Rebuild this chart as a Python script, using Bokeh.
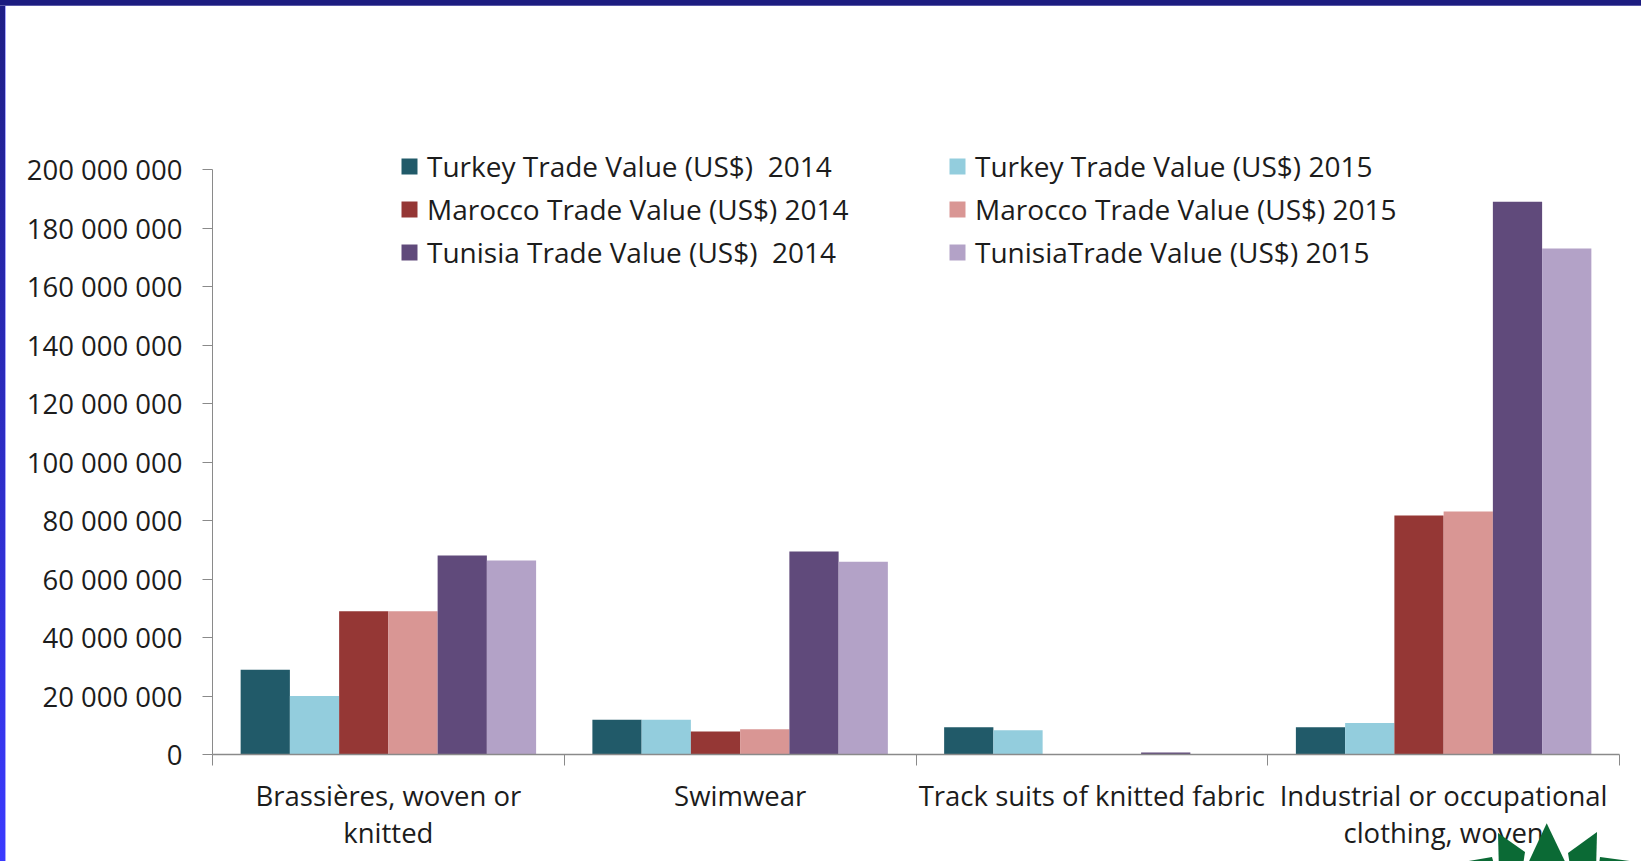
from bokeh.plotting import figure
from bokeh.models import Range1d, FixedTicker, Legend, LegendItem, Div
from bokeh.layouts import column, row
from bokeh.embed import file_html
from bokeh.resources import INLINE

# ---- data ----
categories = ["Brassières, woven or\nknitted", "Swimwear",
              "Track suits of knitted fabric", "Industrial or occupational\nclothing, woven"]
series_names = ["Turkey Trade Value (US$)  2014", "Turkey Trade Value (US$) 2015",
                "Marocco Trade Value (US$) 2014", "Marocco Trade Value (US$) 2015",
                "Tunisia Trade Value (US$)  2014", "TunisiaTrade Value (US$) 2015"]
turkey_2014 = [29.0e6, 11.9e6, 9.3e6, 9.3e6]
turkey_2015 = [20.0e6, 11.9e6, 8.3e6, 10.8e6]
marocco_2014 = [49.0e6, 7.9e6, 0.0, 81.7e6]
marocco_2015 = [49.0e6, 8.6e6, 0.0, 83.1e6]
tunisia_2014 = [68.0e6, 69.4e6, 0.7e6, 189.0e6]
tunisia_2015 = [66.3e6, 65.9e6, 0.0, 173.0e6]
series_values = [turkey_2014, turkey_2015, marocco_2014, marocco_2015, tunisia_2014, tunisia_2015]
colors = ["#215A69", "#93CDDD", "#953735", "#D99694", "#604A7B", "#B3A2C7"]
y_ticks = [0, 20e6, 40e6, 60e6, 80e6, 100e6, 120e6, 140e6, 160e6, 180e6, 200e6]
y_tick_labels = ["0", "20 000 000", "40 000 000", "60 000 000", "80 000 000", "100 000 000",
                 "120 000 000", "140 000 000", "160 000 000", "180 000 000", "200 000 000"]
y_max = 200e6

FONT = "Open Sans"
TXT = "#1c1c1c"
AX = "#8a8a8a"

# layout (pixels)
BAR = 6                       # slide frame bands
W, H = 1635, 855              # figure size
FL = 206                      # frame left
AXIS_H = 585                  # pixels from 0 to 200 000 000
EXTRA_TOP = 30                # room above 200M for the legend
FB = 748                      # frame bottom
FH = AXIS_H + EXTRA_TOP
FT = FB - FH
FW = 1407

p = figure(width=W, height=H, output_backend="svg", toolbar_location=None,
           x_range=Range1d(0, len(categories)),
           y_range=Range1d(0, y_max * FH / AXIS_H),
           frame_width=FW, frame_height=FH,
           min_border_left=FL, min_border_top=FT,
           min_border_right=W - FL - FW, min_border_bottom=H - FB)
p.outline_line_color = None
p.background_fill_color = "white"
p.border_fill_color = "white"
p.xgrid.visible = False
p.ygrid.visible = False

bar_w = 0.14
n = len(series_values)
renderers = []
for i, (vals, col) in enumerate(zip(series_values, colors)):
    off = (i - (n - 1) / 2) * bar_w
    xs = [k + 0.5 + off for k in range(len(categories))]
    r = p.vbar(x=xs, top=vals, bottom=0, width=bar_w, fill_color=col, line_color=None)
    renderers.append(r)

# y axis
ya = p.yaxis[0]
ya.ticker = FixedTicker(ticks=y_ticks)
ya.bounds = (0, y_max)
ya.major_label_overrides = {int(t): lab for t, lab in zip(y_ticks, y_tick_labels)}
ya.major_tick_out = 10
ya.major_tick_in = 0
ya.minor_tick_out = 0
ya.minor_tick_in = 0
ya.axis_line_color = AX
ya.major_tick_line_color = AX
ya.major_label_standoff = 20
ya.major_label_text_font = FONT
ya.major_label_text_font_size = "27.5px"
ya.major_label_text_color = TXT

# x axis
xa = p.xaxis[0]
centers = [k + 0.5 for k in range(len(categories))]
xa.ticker = FixedTicker(ticks=centers, minor_ticks=list(range(len(categories) + 1)))
xa.major_label_overrides = {c: lab for c, lab in zip(centers, categories)}
xa.major_tick_out = 0
xa.major_tick_in = 0
xa.minor_tick_out = 11
xa.minor_tick_in = 0
xa.minor_tick_line_color = AX
xa.axis_line_color = AX
xa.axis_line_width = 1.5
xa.major_label_standoff = 11
xa.major_label_text_font = FONT
xa.major_label_text_font_size = "27.5px"
xa.major_label_text_color = TXT
xa.major_label_text_line_height = 1.0

# legends (two columns)
def make_legend(idx, x, y):
    lg = Legend(items=[LegendItem(label=series_names[i], renderers=[renderers[i]]) for i in idx],
                location=(x, y), orientation="vertical",
                background_fill_alpha=0, border_line_color=None,
                label_text_font=FONT, label_text_font_size="28px", label_text_color=TXT,
                glyph_width=20, glyph_height=20, label_standoff=8,
                label_height=39, spacing=4, padding=0, margin=0)
    p.add_layout(lg, "center")

make_legend([0, 2, 4], 187, 483)
make_legend([1, 3, 5], 735, 483)

# slide frame bands (top and left)
top_band = Div(width=W + BAR, height=BAR, margin=0,
               styles={"background": "linear-gradient(to bottom, #1c1c80 5px, #5a5aa8 5px)"})
left_band = Div(width=BAR, height=H, margin=0,
                styles={"background": "linear-gradient(to right, rgba(0,0,0,0) 5px, #a9a9ff 5px), "
                                      "linear-gradient(to bottom, #1e1e86, #3a3aff)"})

# decorative green logo, partly hidden at the bottom-right corner of the slide
LOGO_H = 45
logo_svg = (
    '<svg width="201" height="%d" xmlns="http://www.w3.org/2000/svg" style="display:block">'
    '<g fill="#0B6A35">'
    '<polygon points="106.7,7.3 84,56 130,56"/>'
    '<polygon points="58,17 85,36 82,56 59,56"/>'
    '<polygon points="157,16 128,37 131,56 156,56"/>'
    '<polygon points="17,47 52,41 56,56 30,56"/>'
    '<polygon points="197,46 160,41 158,56 185,56"/>'
    '</g></svg>' % LOGO_H
)
logo = Div(text=logo_svg, width=201, height=LOGO_H, margin=(-LOGO_H, 0, 0, 1440),
           styles={"overflow": "hidden"})

layout = column(top_band, row(left_band, p, spacing=0), logo, spacing=0)

open("out.html", "w").write(file_html(layout, INLINE))
